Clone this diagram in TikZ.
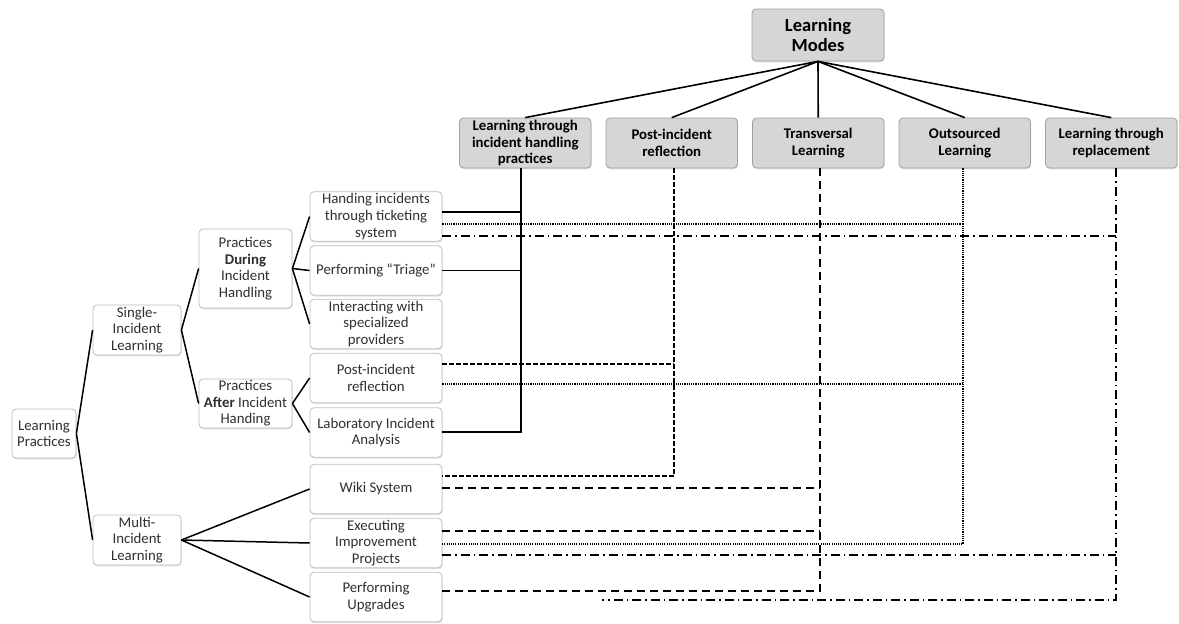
\documentclass[tikz,border=0pt]{standalone}
\usepackage{fontspec}
\setmainfont{Carlito}
\usetikzlibrary{shadows}
\definecolor{modefill}{HTML}{D6D6D6}
\definecolor{modeline}{HTML}{A0A0A0}
\definecolor{boxline}{HTML}{BDBDBD}
\definecolor{txt}{HTML}{303030}
\begin{document}
\begin{tikzpicture}[x=1pt,y=-1pt,
  pbox/.style={draw=boxline, line width=0.8pt, fill=white, rounded corners=4pt,
    align=center, inner sep=0pt, text=txt,
    font=\fontsize{14.8}{16.6}\selectfont,
    drop shadow={shadow xshift=0.6pt, shadow yshift=-1.3pt, opacity=0.35, fill=black!35}},
  leaf/.style={pbox, minimum width=132pt, minimum height=49.5pt},
  mbox/.style={pbox, draw=modeline, fill=modefill, text=black,
    font=\bfseries\fontsize{14.8}{16.3}\selectfont,
    minimum width=131.5pt, minimum height=50pt},
  tline/.style={line width=1.5pt, black},
  sol/.style={line width=1.4pt, black},
  dsh/.style={line width=1.4pt, black, dash pattern=on 4.5pt off 2.5pt},
  ldsh/.style={line width=1.5pt, black, dash pattern=on 8pt off 5pt},
  dtt/.style={line width=1.4pt, black, dash pattern=on 1.1pt off 1.1pt},
  ddot/.style={line width=1.8pt, black, dash pattern=on 9pt off 4pt on 1.5pt off 4pt},
]
\useasboundingbox (0,0) rectangle (1179,624);

% ---- learning modes ----
\node[mbox, minimum width=132pt, minimum height=52pt,
  font=\bfseries\fontsize{18.5}{20}\selectfont] (lm) at (818,35) {Learning\\Modes};
\node[mbox] (m1) at (525.25,143) {Learning through\\incident handling\\practices};
\node[mbox] (m2) at (671.75,143) {Post-incident\\reflection};
\node[mbox] (m3) at (818.25,143) {Transversal\\Learning};
\node[mbox] (m4) at (964.75,143) {Outsourced\\Learning};
\node[mbox] (m5) at (1111.25,143) {Learning through\\replacement};
\foreach \m in {m1,m2,m3,m4,m5} \draw[line width=1.6pt] (lm.south) -- (\m.north);

% ---- learning practices tree ----
\node[pbox, minimum width=64pt, minimum height=49pt] (lp) at (44,433.5) {Learning\\Practices};
\node[pbox, minimum width=88pt, minimum height=50pt] (sil) at (137,330) {Single-\\Incident\\Learning};
\node[pbox, minimum width=88pt, minimum height=50pt] (mil) at (137,540) {Multi-\\Incident\\Learning};
\node[pbox, minimum width=93pt, minimum height=79pt] (dur) at (245.5,268.5) {Practices\\\textbf{During}\\Incident\\Handling};
\node[pbox, minimum width=93pt, minimum height=49pt] (aft) at (245.5,403.5) {Practices\\\textbf{After} Incident\\Handing};

\node[leaf] (l1) at (376,216.5) {Handing incidents\\through ticketing\\system};
\node[leaf] (l2) at (376,270.5) {Performing “Triage”};
\node[leaf] (l3) at (376,324) {Interacting with\\specialized\\providers};
\node[leaf] (l4) at (376,378) {Post-incident\\reflection};
\node[leaf] (l5) at (376,432.5) {Laboratory Incident\\Analysis};
\node[leaf] (l6) at (376,489) {Wiki System};
\node[leaf] (l7) at (376,543) {Executing\\Improvement\\Projects};
\node[leaf] (l8) at (376,597) {Performing\\Upgrades};

\draw[tline] (lp.east) -- (sil.west);
\draw[tline] (lp.east) -- (mil.west);
\draw[tline] (sil.east) -- (dur.west);
\draw[tline] (sil.east) -- (aft.west);
\foreach \l in {l1,l2,l3} \draw[tline] (dur.east) -- (\l.west);
\foreach \l in {l4,l5} \draw[tline] (aft.east) -- (\l.west);
\foreach \l in {l6,l7,l8} \draw[tline] (mil.east) -- (\l.west);

% ---- column trunks below the modes ----
\coordinate (k1) at (521,168);
\coordinate (k2) at (674,168);
\coordinate (k3) at (820,168);
\coordinate (k4) at (963,168);
\coordinate (k5) at (1116,168);
\coordinate (b1) at (521,432);
\coordinate (b2) at (674,476);
\coordinate (b3) at (820,591);
\coordinate (b4) at (963,544);
\coordinate (b5) at (1116,600);
\coordinate (e5) at (602,600);

% start points of the branch lines on the practice boxes
\coordinate (a1) at ([yshift=4.5pt]l1.east);
\coordinate (a2) at (l2.east);
\coordinate (d1) at ([yshift=-7.5pt]l1.east);
\coordinate (d4) at ([yshift=-6pt]l4.east);
\coordinate (c1) at ([yshift=-19.5pt]l1.east);
\coordinate (c7) at ([yshift=-12pt]l7.east);
\coordinate (p4) at ([yshift=14pt]l4.east);
\coordinate (t6) at ([yshift=1pt]l6.east);
\coordinate (t7) at ([yshift=12pt]l7.east);

% incident handling practices: solid
\draw[sol] (m1.south -| k1) -- (b1) -- (b1 -| l5.east);
\draw[sol] (a1) -- (a1 -| k1);
\draw[sol] (a2) -- (a2 -| k1);

% post-incident reflection: short dashes
\draw[dsh] (m2.south -| k2) -- (b2) -- (b2 -| l6.east);
\draw[dsh] (p4) -- (p4 -| k2);

% transversal learning: long dashes
\draw[ldsh] (m3.south -| k3) -- (b3) -- (b3 -| l8.east);
\draw[ldsh] (t6) -- (t6 -| k3);
\draw[ldsh] (t7) -- (t7 -| k3);

% outsourced learning: dotted
\draw[dtt] (m4.south -| k4) -- (b4) -- (b4 -| l7.east);
\draw[dtt] (d1) -- (d1 -| k4);
\draw[dtt] (d4) -- (d4 -| k4);

% learning through replacement: dash-dot
\draw[ddot] (m5.south -| k5) -- (b5) -- (e5);
\draw[ddot] (c1) -- (c1 -| k5);
\draw[ddot] (c7) -- (c7 -| k5);
\end{tikzpicture}
\end{document}
